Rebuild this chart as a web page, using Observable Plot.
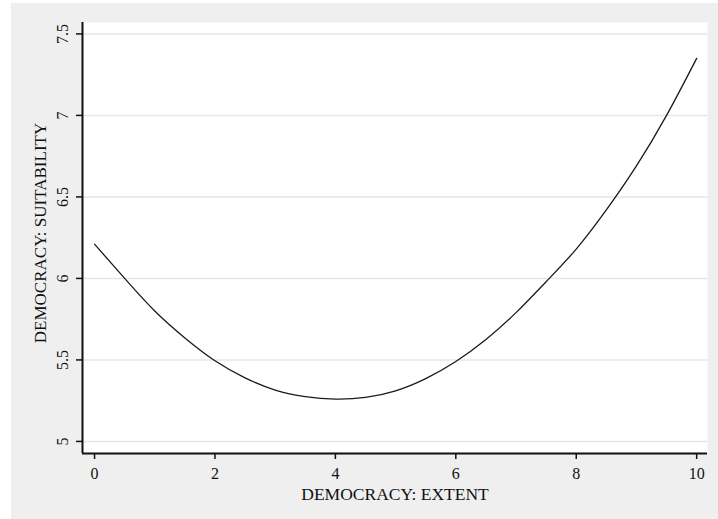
<!DOCTYPE html>
<html><head><meta charset="utf-8">
<script src="https://cdn.jsdelivr.net/npm/d3@7"></script>
<script src="https://cdn.jsdelivr.net/npm/@observablehq/plot@0.6"></script>
<style>
html,body{margin:0;padding:0;background:#fff;}
#wrap{position:relative;width:718px;height:519px;overflow:hidden}
#bg{position:absolute;left:11px;top:3px;width:707px;height:516px;background:#efefef}
#chart{position:absolute;left:0;top:0}
</style></head><body>
<div id="wrap"><div id="bg"></div><div id="chart"></div></div>
<script>
const extent = [0, 0.5, 1, 1.5, 2, 2.5, 3, 3.5, 4, 4.5, 5, 5.5, 6, 6.5, 7, 7.5, 8, 8.5, 9, 9.5, 10];
const suitability = [6.21, 6.00, 5.80, 5.635, 5.495, 5.39, 5.315, 5.275, 5.26, 5.27, 5.31, 5.385, 5.49, 5.625, 5.79, 5.98, 6.18, 6.42, 6.69, 7.00, 7.35];
const xTicks = [0, 2, 4, 6, 8, 10];
const xTickLabels = ["0", "2", "4", "6", "8", "10"];
const yTicks = [5, 5.5, 6, 6.5, 7, 7.5];
const yTickLabels = ["5", "5.5", "6", "6.5", "7", "7.5"];
const xTitle = "DEMOCRACY: EXTENT";
const yTitle = "DEMOCRACY: SUITABILITY";
const xDomain = [-0.2, 10.18];
const yDomain = [4.926, 7.57];

const data = extent.map((x, i) => ({x, y: suitability[i]}));
const font = "'Liberation Serif', 'Times New Roman', serif";

const chart = Plot.plot({
  width: 718, height: 519,
  marginLeft: 82, marginRight: 11, marginTop: 22, marginBottom: 66,
  style: {background: "transparent", fontFamily: font, color: "#111"},
  x: {domain: xDomain},
  y: {domain: yDomain},
  marks: [
    Plot.frame({fill: "white", stroke: null}),
    Plot.gridY(yTicks, {stroke: "#e6e6e6", strokeOpacity: 1, strokeWidth: 1.5}),
    Plot.line(data, {x: "x", y: "y", stroke: "#1a1a1a", strokeWidth: 1.3, curve: "natural"}),
    Plot.ruleX([xDomain[0]], {stroke: "#111", strokeWidth: 2}),
    Plot.ruleY([yDomain[0]], {stroke: "#111", strokeWidth: 2}),
    Plot.axisX(xTicks, {tickSize: 6, tickPadding: 8, strokeWidth: 1.5, fontSize: 16, color: "#111",
      tickFormat: d => xTickLabels[xTicks.indexOf(d)], label: null}),
    Plot.axisY(yTicks, {tickSize: 6, tickPadding: 9, strokeWidth: 1.5, fontSize: 16, color: "#111", tickRotate: -90,
      tickFormat: d => yTickLabels[yTicks.indexOf(d)], label: null}),
    Plot.text([xTitle], {frameAnchor: "bottom", dy: 41, lineAnchor: "middle", fontSize: 17.5, fill: "#111"}),
    Plot.text([yTitle], {frameAnchor: "left", dx: -42, dy: -5, rotate: -90, textAnchor: "middle", lineAnchor: "middle", fontSize: 17, fill: "#111"})
  ]
});
document.getElementById("chart").appendChild(chart);
</script>
</body></html>
